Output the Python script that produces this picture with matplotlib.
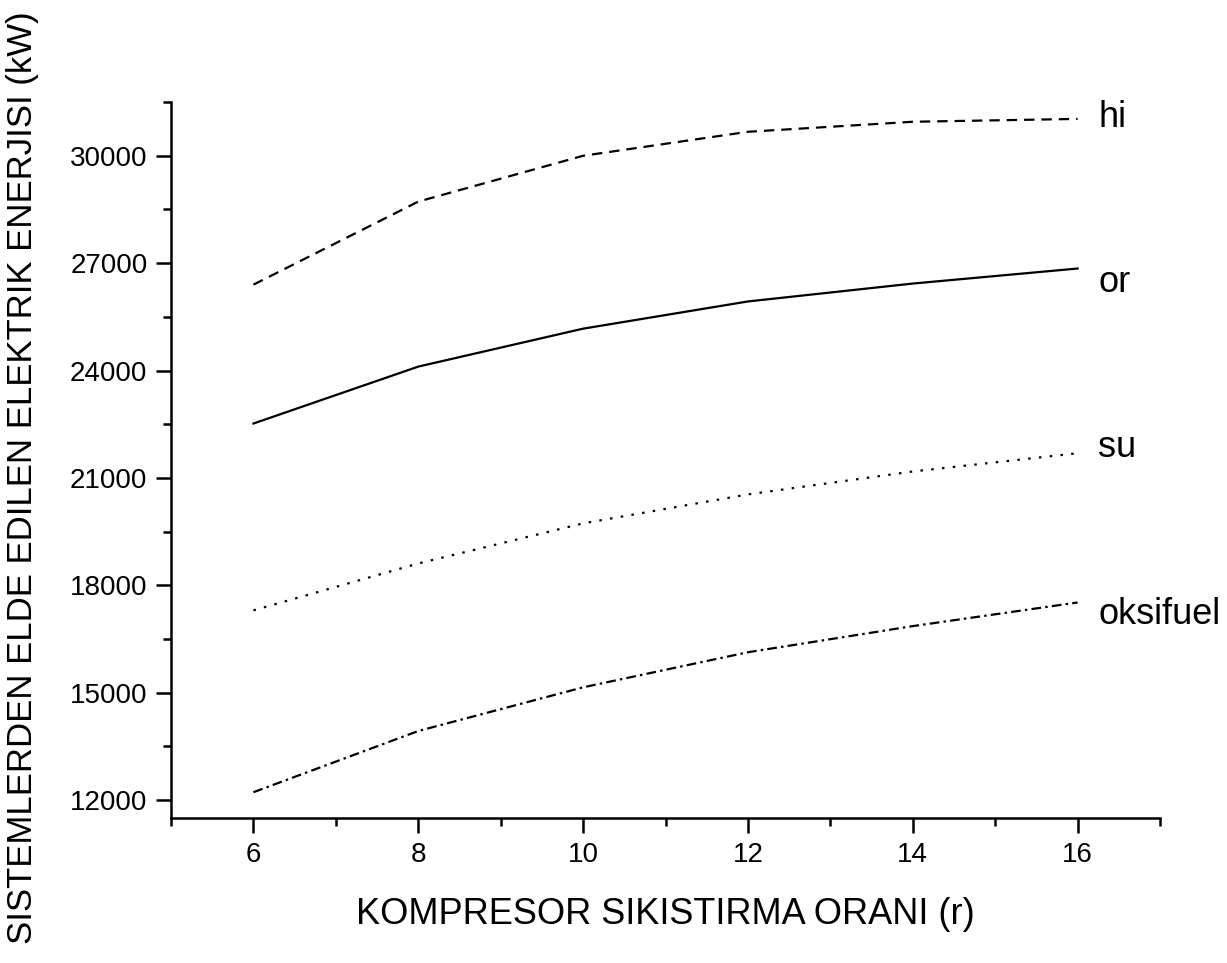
import matplotlib
matplotlib.use("Agg")
import matplotlib.pyplot as plt
from matplotlib.ticker import MultipleLocator

plt.rcParams['font.family'] = ['Liberation Sans', 'DejaVu Sans']
plt.rcParams['lines.scale_dashes'] = False

r = [6, 8, 10, 12, 14, 16]
hi = [26400, 28720, 30000, 30670, 30950, 31030]
or_ = [22520, 24110, 25170, 25930, 26430, 26850]
su = [17300, 18610, 19730, 20540, 21180, 21690]
oksifuel = [12220, 13930, 15150, 16130, 16860, 17520]

series_names = ["hi", "or", "su", "oksifuel"]
label_y = [31060, 26450, 21850, 17190]

fig = plt.figure(figsize=(12.27, 9.63), dpi=100)
ax = fig.add_axes([0.1394, 0.1506, 0.9454 - 0.1394, 0.894 - 0.1506])

lw = 1.6
ax.plot(r, hi, color='black', lw=lw, linestyle=(0, (7.5, 5.0)))
ax.plot(r, or_, color='black', lw=lw, linestyle='-')
ax.plot(r, su, color='black', lw=lw, linestyle=(0, (1.8, 6.0)))
ax.plot(r, oksifuel, color='black', lw=lw, linestyle=(0, (7.0, 3.0, 1.8, 3.0)))

for name, yv in zip(series_names, label_y):
    ax.text(16.25, yv, name, fontsize=26, va='center', ha='left', clip_on=False)

ax.set_xlim(5, 17)
ax.set_ylim(11500, 31500)
ax.xaxis.set_major_locator(MultipleLocator(2))
ax.xaxis.set_minor_locator(MultipleLocator(1))
ax.yaxis.set_major_locator(MultipleLocator(3000))
ax.yaxis.set_minor_locator(MultipleLocator(1500))

for s in ['top', 'right']:
    ax.spines[s].set_visible(False)
for s in ['left', 'bottom']:
    ax.spines[s].set_linewidth(1.8)

ax.tick_params(which='major', direction='out', length=11, width=1.8, labelsize=20, pad=6)
ax.tick_params(which='minor', direction='out', length=5.5, width=1.8)

ax.set_xlabel("KOMPRESOR SIKISTIRMA ORANI (r)", fontsize=26, labelpad=21)
ax.set_ylabel("SISTEMLERDEN ELDE EDILEN ELEKTRIK ENERJISI (kW)", fontsize=25)
ax.yaxis.set_label_coords(-0.134, 0.475)

fig.savefig("out.png", dpi=100)
